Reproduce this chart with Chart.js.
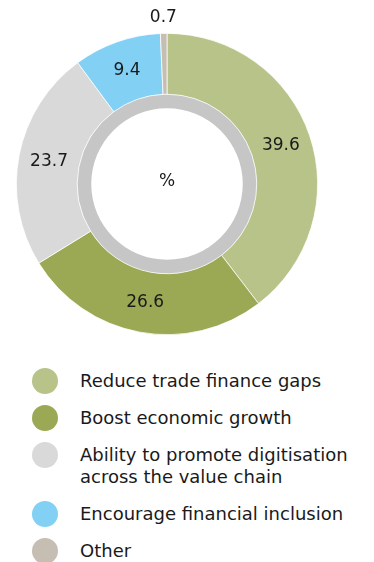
<!DOCTYPE html>
<html>
<head>
<meta charset="utf-8">
<script src="https://cdn.jsdelivr.net/npm/chart.js@4"></script>
<style>
  html, body { margin: 0; padding: 0; background: #fff; }
  body { width: 374px; height: 562px; position: relative; overflow: hidden;
         font-family: "DejaVu Sans", sans-serif; color: #1a1a1a; }
  #wrap { position: absolute; left: 0; top: 0; width: 374px; height: 340px; }
  #legend { position: absolute; left: 32px; top: 370px; margin: 0; padding: 0; list-style: none; }
  #legend li { display: flex; align-items: flex-start; margin-bottom: 15px; }
  #legend .dot { width: 26px; height: 26px; border-radius: 50%; margin: -2px 0 -2px 0; flex: none; }
  #legend .txt { margin-left: 22px; font-size: 18px; line-height: 22px; }
</style>
</head>
<body>
<div id="wrap"><canvas id="donut"></canvas></div>
<ul id="legend"></ul>
<script>
// data
const categories = [
    'Reduce trade finance gaps',
    'Boost economic growth',
    'Ability to promote digitisation|across the value chain',
    'Encourage financial inclusion',
    'Other'
];
const shares = [39.6, 26.6, 23.7, 9.4, 0.7];
const sliceColors = ['#b8c38a', '#9ba955', '#d9d9d9', '#82d0f4', '#c6bdb3'];

// legend (html so the two-line item wraps like the original)
const legendEl = document.getElementById('legend');
categories.forEach((c, i) => {
    const li = document.createElement('li');
    li.innerHTML = '<span class="dot" style="background:' + sliceColors[i] + '"></span>' +
        '<span class="txt">' + c.split('|').join('<br>') + '</span>';
    legendEl.appendChild(li);
});

// value labels on the ring, small slices go outside
const valueLabels = {
    id: 'valueLabels',
    afterDatasetsDraw(chart) {
        const ctx = chart.ctx;
        const arcs = chart.getDatasetMeta(0).data;
        ctx.save();
        ctx.font = '17px "DejaVu Sans"';
        ctx.fillStyle = '#1a1a1a';
        ctx.textAlign = 'center';
        ctx.textBaseline = 'middle';
        arcs.forEach((arc, i) => {
            const p = arc.getProps(['x', 'y', 'startAngle', 'endAngle', 'innerRadius', 'outerRadius'], true);
            const mid = (p.startAngle + p.endAngle) / 2;
            const r = shares[i] < 2 ? p.outerRadius + 16 : (p.innerRadius + p.outerRadius) / 2;
            ctx.fillText(shares[i].toFixed(1), p.x + Math.cos(mid) * r, p.y + Math.sin(mid) * r);
        });
        // unit in the hole
        const c0 = arcs[0];
        ctx.fillText('%', c0.x, c0.y - 2);
        ctx.restore();
    }
};

new Chart(document.getElementById('donut'), {
    type: 'doughnut',
    data: {
        labels: categories,
        datasets: [{
            data: shares,
            backgroundColor: sliceColors,
            borderColor: '#ffffff',
            borderWidth: 0.75,
            weight: 61
        }, {
            // grey inner band
            data: [1],
            backgroundColor: ['#c6c6c6'],
            borderWidth: 0,
            weight: 14
        }]
    },
    options: {
        responsive: true,
        maintainAspectRatio: false,
        animation: false,
        cutout: '50.3%',
        layout: { padding: { top: 33, bottom: 5, left: 16, right: 56 } },
        plugins: {
            legend: { display: false },
            tooltip: { enabled: false }
        },
        events: []
    },
    plugins: [valueLabels]
});
</script>
</body>
</html>
